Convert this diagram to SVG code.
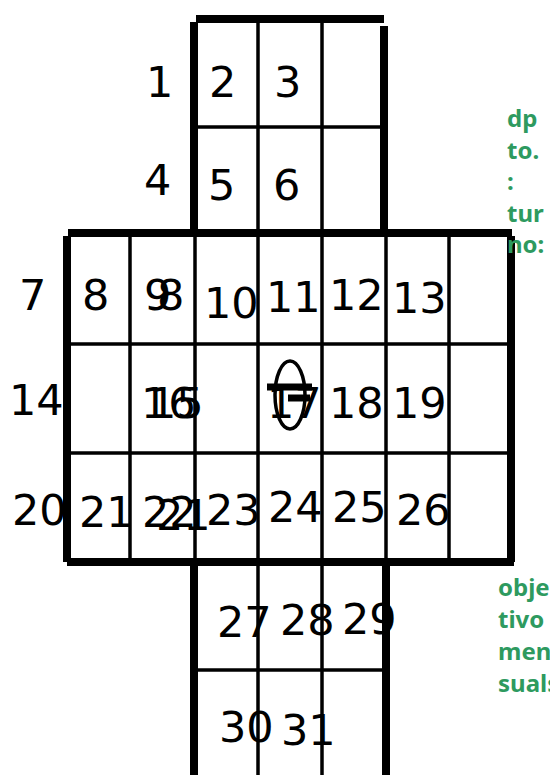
<svg xmlns="http://www.w3.org/2000/svg" width="550" height="775" viewBox="0 0 550 775">
<style>
.k{stroke:#000;stroke-width:8;fill:none}
.t{stroke:#000;stroke-width:3.5;fill:none}
.n{font-family:"DejaVu Sans",sans-serif;font-size:43px;fill:#000}
.g{font-family:"Noto Sans","Open Sans",sans-serif;font-size:24px;font-weight:bold;fill:#2e9a5f}
</style>
<rect width="550" height="775" fill="#fff"/>
<g id="grid">
  <line class="k" x1="196" y1="19" x2="384" y2="19"/>
  <line class="k" x1="194" y1="22" x2="194" y2="233"/>
  <line class="k" x1="384" y1="26" x2="384" y2="232"/>
  <line class="t" x1="258" y1="22" x2="258" y2="233"/>
  <line class="t" x1="322" y1="22" x2="322" y2="233"/>
  <line class="t" x1="196" y1="127" x2="384" y2="127"/>
  <line class="k" x1="68" y1="233" x2="512" y2="233"/>
  <line class="k" x1="67" y1="236" x2="67" y2="562"/>
  <line class="k" x1="511" y1="236" x2="511" y2="562"/>
  <line class="t" x1="130" y1="236" x2="130" y2="560"/>
  <line class="t" x1="195" y1="236" x2="195" y2="560"/>
  <line class="t" x1="258" y1="236" x2="258" y2="560"/>
  <line class="t" x1="322" y1="236" x2="322" y2="560"/>
  <line class="t" x1="386" y1="236" x2="386" y2="560"/>
  <line class="t" x1="449" y1="236" x2="449" y2="560"/>
  <line class="t" x1="69" y1="344" x2="510" y2="344"/>
  <line class="t" x1="69" y1="453" x2="510" y2="453"/>
  <line class="k" x1="67" y1="562" x2="514" y2="562"/>
  <line class="k" x1="194" y1="566" x2="194" y2="775"/>
  <line class="k" x1="386" y1="566" x2="386" y2="775"/>
  <line class="t" x1="258" y1="564" x2="258" y2="775"/>
  <line class="t" x1="322" y1="564" x2="322" y2="775"/>
  <line class="t" x1="196" y1="670" x2="384" y2="670"/>
</g>
<g id="labels">
  <text class="n" x="146" y="97">1</text>
  <text class="n" x="209" y="97">2</text>
  <text class="n" x="274" y="97">3</text>
  <text class="n" x="144" y="195">4</text>
  <text class="n" x="208" y="200">5</text>
  <text class="n" x="273" y="200">6</text>
  <text class="n" x="19" y="310">7</text>
  <text class="n" x="82" y="310">8</text>
  <text class="n" x="144" y="310">9</text>
  <text class="n" x="157" y="310">8</text>
  <text class="n" x="204" y="318">10</text>
  <text class="n" x="266" y="312">11</text>
  <text class="n" x="329" y="310">12</text>
  <text class="n" x="392" y="313">13</text>
  <text class="n" x="9" y="415">14</text>
  <text class="n" x="141" y="418">16</text>
  <text class="n" x="149" y="418">15</text>
  <g id="cell17">
    <text class="n" x="267" y="418">17</text>
    <path d="M267 387 H312 M288 398 H310" stroke="#000" stroke-width="7" fill="none"/>
    <ellipse class="t" cx="290" cy="395" rx="15" ry="34"/>
  </g>
  <text class="n" x="329" y="418">18</text>
  <text class="n" x="392" y="418">19</text>
  <text class="n" x="12" y="525">20</text>
  <text class="n" x="79" y="527">21</text>
  <text class="n" x="142" y="527">22</text>
  <text class="n" x="156" y="530">21</text>
  <text class="n" x="206" y="525">23</text>
  <text class="n" x="268" y="522">24</text>
  <text class="n" x="332" y="522">25</text>
  <text class="n" x="396" y="525">26</text>
  <text class="n" x="217" y="637">27</text>
  <text class="n" x="280" y="635">28</text>
  <text class="n" x="342" y="634">29</text>
  <text class="n" x="219" y="742">30</text>
  <text class="n" x="281" y="745">31</text>
</g>
<g id="note-top">
  <text class="g" x="507" y="127">dp</text>
  <text class="g" x="507" y="159">to.</text>
  <text class="g" x="507" y="190">:</text>
  <text class="g" x="507" y="222">tur</text>
  <text class="g" x="507" y="253">no:</text>
</g>
<g id="note-bottom">
  <text class="g" x="498" y="596">obje</text>
  <text class="g" x="498" y="628">tivo</text>
  <text class="g" x="498" y="660">men</text>
  <text class="g" x="498" y="692">suals:</text>
</g>
</svg>
